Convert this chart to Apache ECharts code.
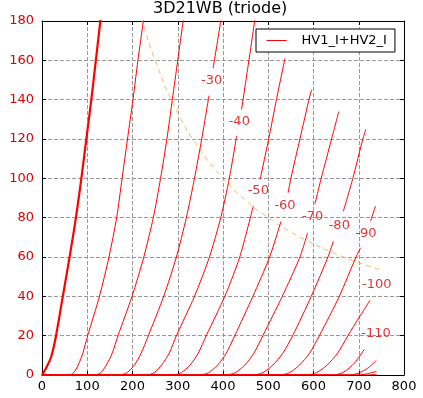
<!DOCTYPE html>
<html>
<head>
<meta charset="utf-8">
<script src="https://cdn.jsdelivr.net/npm/echarts@6/dist/echarts.min.js"></script>
<style>html,body{margin:0;padding:0;background:#fff;}#c{width:423px;height:398px;}</style>
</head>
<body>
<div id="c"></div>
<script>
// Plate curves [plate voltage V, plate current mA]; '-' marks the gap left for the inline label
var vg0   = [[0,0],[10,4],[20,9],[31,20],[46,40],[61,60],[75,80],[87,100],[98,120],[109,140],[119,160],[129,180],[134,190]];
var vg10  = [[0,0],[60,0],[70,1.2],[80,5],[90,11],[101,20],[127,40],[148,60],[165,80],[177,100],[189,120],[201,140],[212,160],[224,180],[230,190]];
var vg20  = [[0,0],[117,0],[130,1.2],[142,5],[155,11],[168,20],[199,40],[225,60],[246,80],[262,100],[276,120],[288,140],[300,160],[312,180],[318,190]];
var vg30  = [[0,0],[172,0],[188,1.2],[204,5],[219,11],[235,20],[269,40],[297,60],[319,80],[337,100],[353,120],[369,142],['-','-'],[378,156],[386,167],[395,180],[402,190]];
var vg40  = [[0,0],[231,0],[248,1.2],[264,5],[281,11],[297,20],[337,40],[370,60],[395,80],[414,100],[430,121.5],['-','-'],[441,135],[456,158],[470,180],[476,190]];
var vg50  = [[0,0],[290,0],[308,1.2],[327,5],[345,11],[363,20],[404,40],[437,60],[467,86],['-','-'],[482,99.5],[501,120],[518,140],[537,161]];
var vg60  = [[0,0],[349,0],[368,1.2],[388,5],[407,11],[426,20],[466,40],[503,60],[528,78],['-','-'],[544,92.7],[550,100],[570,120],[592,142],[596,145]];
var vg70  = [[0,0],[407,0],[427,1.2],[448,5],[468,11],[488,20],[531,40],[570,60],[587,72.3],['-','-'],[603,86.8],[617,100],[640,120],[656,134]];
var vg80  = [[0,0],[466,0],[488,1.2],[510,5],[532,11],[554,20],[595,40],[632,60],[644,68],['-','-'],[666,83.3],[687,100],[709,120],[716,125]];
var vg90  = [[0,0],[525,0],[547,1.2],[569,5],[591,11],[613,20],[657,40],[694,60],[704,64.7],['-','-'],[726,78.2],[737,85.9]];
var vg100 = [[0,0],[584,0],[607,1.2],[630,5],[653,11],[676,20],[700,29],[725,38]];
var vg110 = [[0,0],[643,0],[667,1.5],[690,6],[712,13]];
var vg120 = [[0,0],[680,0],[700,1],[720,3.5],[739,7.4]];
var vg130 = [[0,0],[700,0],[720,0.7],[739,1.8]];
var vg140 = [[0,0],[720,0],[740,0.4]];
var curves = [vg0, vg10, vg20, vg30, vg40, vg50, vg60, vg70, vg80, vg90, vg100, vg110, vg120, vg130, vg140];

// 40 W plate dissipation line
var pdV = [210, 222, 250, 300, 350, 400, 450, 500, 550, 600, 650, 700, 755];
var pdI = [190.5, 180, 160, 133.3, 114.3, 100, 88.9, 80, 72.7, 66.7, 61.5, 57.1, 53];

// inline grid-voltage labels
var labelText = ['-30', '-40', '-50', '-60', '-70', '-80', '-90', '-100', '-110'];
var labelV = [375, 436, 478, 537, 598, 657, 716, 740, 738];
var labelI = [149.9, 129, 93.7, 86.2, 80.3, 75.7, 71.8, 46, 21];

var xTicks = [0, 800, 100];
var yTicks = [0, 180, 20];
var seriesName = 'HV1_I+HV2_I';
var title = '3D21WB (triode)';

var FONT = 'DejaVu Sans';
var RED = '#ff0000';
var TXT = '#dd0000';
var series = [];
curves.forEach(function (c, k) {
  series.push({
    type: 'line', name: seriesName, data: c, symbol: 'none', showSymbol: false,
    smooth: 0.25, connectNulls: false, silent: true, z: 3,
    lineStyle: {color: RED, width: k === 0 ? 2.2 : 1}, itemStyle: {color: RED}
  });
});
series.push({
  type: 'line', name: 'Pd', data: pdV.map(function (v, i) { return [v, pdI[i]]; }),
  symbol: 'none', smooth: true, silent: true, z: 2,
  lineStyle: {color: '#f3b55e', width: 1, type: [5, 4]}
});
series.push({
  type: 'scatter', name: 'labels', silent: true, z: 5,
  data: labelV.map(function (v, i) { return [v, labelI[i], labelText[i]]; }),
  symbol: 'circle', symbolSize: 1, itemStyle: {color: 'rgba(0,0,0,0)'},
  label: {show: true, position: 'inside', color: TXT, fontFamily: FONT, fontSize: 13,
          formatter: function (p) { return p.value[2]; }}
});

var dashed = {show: true, lineStyle: {color: '#999', width: 1, type: [4, 2]}};
var axLine = {show: true, onZero: false, lineStyle: {color: '#000', width: 1}};
var tick = {show: true, inside: true, length: 4, lineStyle: {color: '#000'}};

var chart = echarts.init(document.getElementById('c'), null, {renderer: 'canvas'});
chart.setOption({
  animation: false,
  backgroundColor: '#fff',
  title: {text: title, left: 153, top: 1, padding: 0,
          textStyle: {fontFamily: FONT, fontSize: 16, fontWeight: 'normal', color: '#000'}},
  legend: {data: [seriesName],
           left: 256, top: 29, orient: 'vertical',
           padding: [5, 8, 5, 10], itemWidth: 20, itemHeight: 14,
           borderColor: '#000', borderWidth: 1, backgroundColor: '#fff', borderRadius: 0,
           itemStyle: {opacity: 0},
           lineStyle: {width: 1, color: RED},
           textStyle: {fontFamily: FONT, fontSize: 13, color: '#000', padding: [0, 0, 0, 10]}},
  grid: {left: 42, right: 19, top: 21, bottom: 23, containLabel: false},
  xAxis: [
    {type: 'value', min: xTicks[0], max: xTicks[1], interval: xTicks[2], position: 'bottom',
     axisLine: axLine, axisTick: tick, splitLine: dashed,
     axisLabel: {color: '#000', fontFamily: FONT, fontSize: 13, margin: 5}},
    {type: 'value', min: xTicks[0], max: xTicks[1], interval: xTicks[2], position: 'top',
     axisLine: axLine, axisTick: tick, splitLine: {show: false}, axisLabel: {show: false}}
  ],
  yAxis: [
    {type: 'value', min: yTicks[0], max: yTicks[1], interval: yTicks[2], position: 'left',
     axisLine: axLine, axisTick: tick, splitLine: dashed,
     axisLabel: {color: TXT, fontFamily: FONT, fontSize: 13, margin: 8}},
    {type: 'value', min: yTicks[0], max: yTicks[1], interval: yTicks[2], position: 'right',
     axisLine: axLine, axisTick: tick, splitLine: {show: false}, axisLabel: {show: false}}
  ],
  series: series
});
</script>
</body>
</html>
